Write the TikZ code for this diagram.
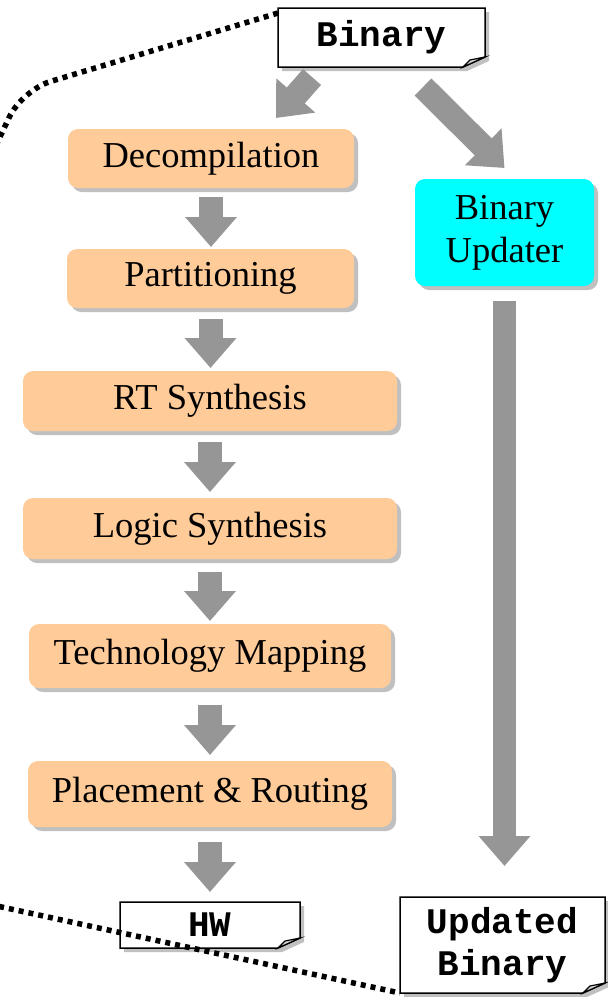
\documentclass[tikz,border=0pt]{standalone}
\usepackage{fontspec}
\setmainfont{Liberation Serif}
\setmonofont{Liberation Mono}
\usetikzlibrary{calc,shadows,arrows.meta,backgrounds}
\definecolor{peach}{RGB}{255,204,153}
\definecolor{aqua}{RGB}{0,255,255}
\definecolor{arrowgray}{RGB}{150,150,150}
\definecolor{shadowgray}{RGB}{192,192,192}

\begin{document}
\begin{tikzpicture}[
  x=1pt, y=-1pt,
  tool/.style={
    rectangle, rounded corners=10pt,
    fill=peach,
    font=\fontsize{36.5}{43}\selectfont,
    inner sep=0pt, outer sep=0pt,
    drop shadow={shadow xshift=4pt, shadow yshift=-4pt, fill=shadowgray, opacity=1}
  },
  updater/.style={
    tool,
    fill=aqua,
    align=center
  },
  doc/.style={
    rectangle,
    font=\ttfamily\bfseries\fontsize{36}{42}\selectfont,
    align=center,
    inner sep=0pt, outer sep=0pt
  },
  flow/.style={
    draw=arrowgray,
    line width=24pt,
    -{Triangle[length=30pt, width=50pt]}
  },
  dotted border/.style={
    line width=5.5pt,
    dash pattern=on 5pt off 5pt
  }
  ]
\useasboundingbox (0,0) rectangle (608,997);
% Hardware flow
\node [tool, minimum width=286pt, minimum height=59pt] (decomp) at (211,158.5) {Decompilation};
\node [tool, minimum width=287pt, minimum height=59pt] (part) at (210.5,278.5) {Partitioning};
\node [tool, minimum width=374pt, minimum height=60pt] (rt) at (210,401) {RT Synthesis};
\node [tool, minimum width=374pt, minimum height=61pt] (logic) at (210,528.5) {Logic Synthesis};
\node [tool, minimum width=362pt, minimum height=64pt] (tech) at (210,656) {Technology Mapping};
\node [tool, minimum width=364pt, minimum height=66pt] (place) at (210,794) {Placement \& Routing};
% Binary updater
\node [updater, minimum width=179pt, minimum height=107pt] (updater) at (504.5,232.5) {Binary\\Updater};
% Files
\node [doc, minimum width=207pt, minimum height=59pt] (binary) at (381.5,37.5) {Binary};
\node [doc, minimum width=180pt, minimum height=46pt] (hw) at (210,925) {HW};
\node [doc, minimum width=205pt, minimum height=96pt] (updated) at (502.5,945) {Updated\\Binary};
\begin{pgfonlayer}{background}
\foreach \n in {binary,hw,updated} {
  \fill[shadowgray] ($(\n.north west)+(4,4)$) -- ($(\n.north east)+(4,4)$) -- ($(\n.south east)+(4,-6)$)
    -- ($(\n.south east)+(-18,4)$) -- ($(\n.south west)+(4,4)$) -- cycle;
  \draw[line width=1.5pt, fill=white] (\n.north west) -- (\n.north east) -- ($(\n.south east)+(0,-10)$)
    -- ($(\n.south east)+(-22,0)$) -- (\n.south west) -- cycle;
  \draw[line width=1.2pt, fill=black!15] ($(\n.south east)+(-22,0)$) -- ($(\n.south east)+(0,-10)$)
    -- ($(\n.south east)+(-15,-7)$) -- cycle;
}
\end{pgfonlayer}
% Arrows
\draw[flow] ($(binary.south west)+(34,10)$) -- ($(decomp.north east)+(-78,-11)$);
\draw[flow] ($(binary.south east)+(-62,20)$) -- ($(updater.north)+(0,-11)$);
\draw[flow, shorten <=9pt, shorten >=2pt] (decomp.south) -- (decomp.south |- part.north);
\draw[flow, shorten <=11pt, shorten >=3pt] (part.south) -- (part.south |- rt.north);
\draw[flow, shorten <=11pt, shorten >=6pt] (rt.south) -- (rt.south |- logic.north);
\draw[flow, shorten <=13pt, shorten >=3pt] (logic.south) -- (logic.south |- tech.north);
\draw[flow, shorten <=17pt, shorten >=6pt] (tech.south) -- (tech.south |- place.north);
\draw[flow, shorten <=15pt, shorten >=10pt] (place.south) -- (place.south |- hw.north);
\draw[flow, line width=23pt, shorten <=15pt, shorten >=31pt] (updater.south) -- (updater.south |- updated.north);
% Dotted border
\coordinate (border corner) at (22,90);
\coordinate (border left) at (-53,250);
\coordinate (border bottom) at (-40,898);
\draw[dotted border, rounded corners=30pt] ($(binary.north west)+(0,5)$) -- (border corner) -- (border left);
\draw[dotted border] (border bottom) -- (updated.south west);
\end{tikzpicture}
\end{document}
